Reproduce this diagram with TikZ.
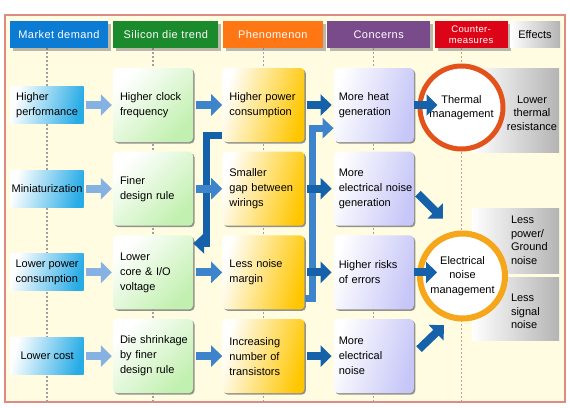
\documentclass[tikz,border=0pt]{standalone}
\usepackage{fontspec}
\setmainfont{Liberation Sans}
\newfontfamily\hdrfont[LetterSpace=4]{Liberation Sans}
\usetikzlibrary{arrows.meta,positioning,shadows,backgrounds}
\definecolor{MarketBlue}{HTML}{0B7BD4}
\definecolor{SiliconGreen}{HTML}{1B8A2D}
\definecolor{PhenOrange}{HTML}{FF7614}
\definecolor{ConcPurple}{HTML}{7A4B8B}
\definecolor{CounterRed}{HTML}{DE0417}
\definecolor{MarketLight}{HTML}{28ACE6}
\definecolor{TrendLight}{HTML}{C2F0B0}
\definecolor{PhenLight}{HTML}{FFC600}
\definecolor{ConcLight}{HTML}{C6C6F8}
\definecolor{EffGray}{HTML}{B4B4B4}
\definecolor{ArrowLight}{HTML}{85B2E2}
\definecolor{ArrowMid}{HTML}{3D84CC}
\definecolor{ArrowDark}{HTML}{1562AA}
\definecolor{RingRed}{HTML}{E4521C}
\definecolor{RingGold}{HTML}{F6A61A}
\definecolor{FrameRed}{HTML}{E08B82}
\definecolor{FrameFill}{HTML}{FFFCE2}
\definecolor{DotGray}{HTML}{A0A0A0}
\definecolor{DotRed}{HTML}{D8958E}

\begin{document}
\begin{tikzpicture}[x=1pt,y=-1pt,
  node distance=9.3pt and 29pt,
  txt/.style={font=\fontsize{11pt}{15pt}\selectfont},
  hdr/.style={minimum height=27pt,inner sep=0pt,text=white,align=center,
    font=\hdrfont\fontsize{11pt}{12pt}\selectfont,
    drop shadow={shadow xshift=3pt,shadow yshift=-3pt,fill=black!60,opacity=.45}},
  effhdr/.style={minimum width=50pt,minimum height=26pt,inner sep=0pt,
    left color=white,right color=EffGray,font=\fontsize{11pt}{12pt}\selectfont},
  cardshadow/.style={drop shadow={shadow xshift=1.5pt,shadow yshift=-1.5pt,fill=black!60,opacity=.7}},
  demand/.style={txt,minimum width=73pt,minimum height=37pt,inner sep=1pt,align=left,
    top color=white,bottom color=MarketLight,shading angle=75},
  trend/.style={txt,cardshadow,rounded corners=4pt,minimum width=80pt,minimum height=74pt,
    inner xsep=7pt,text width=66pt,align=left,top color=white,bottom color=TrendLight,shading angle=45},
  phen/.style={txt,cardshadow,rounded corners=4pt,minimum width=82pt,minimum height=74pt,
    inner xsep=7pt,text width=68pt,align=left,top color=white,bottom color=PhenLight,shading angle=75},
  conc/.style={txt,cardshadow,rounded corners=4pt,minimum width=80pt,minimum height=74pt,
    inner xsep=5pt,text width=70pt,align=left,top color=white,bottom color=ConcLight,shading angle=75},
  effect/.style={minimum width=87pt,inner sep=0pt,left color=white,right color=EffGray},
  efftext/.style={font=\fontsize{11pt}{13.5pt}\selectfont,inner sep=0pt},
  mgmt/.style={circle,fill=white,align=center,inner sep=0pt,font=\fontsize{11pt}{14.5pt}\selectfont},
  outerframe/.style={draw=FrameRed,line width=1.2pt,fill=FrameFill,minimum width=560pt,minimum height=387pt,inner sep=0pt},
  dotcol/.style={draw=DotGray,line width=1.3pt,dash pattern=on 1.5pt off 2.5pt},
  dotred/.style={draw=DotRed,line width=1.3pt,dash pattern=on 1.5pt off 2.5pt},
  fat/.style={line width=8pt,-{Triangle[length=11pt,width=21pt]}},
  arrowlight/.style={fat,draw=ArrowLight},
  arrowmid/.style={fat,draw=ArrowMid},
  arrowdark/.style={fat,draw=ArrowDark},
  elbowarrow/.style={line width=7pt,-{Triangle[length=11pt,width=20pt]}}]
\useasboundingbox (0,0) rectangle (570,407);
% column headers
\node[hdr,fill=MarketBlue,minimum width=98pt] (hmarket) at (59,34.5) {Market demand};
\node[hdr,fill=SiliconGreen,minimum width=105pt,right=5pt of hmarket] (hsilicon) {Silicon die trend};
\node[hdr,fill=PhenOrange,minimum width=100pt,right=4pt of hsilicon] (hphen) {Phenomenon};
\node[hdr,fill=ConcPurple,minimum width=103pt,right=4pt of hphen] (hconc) {Concerns};
\node[hdr,fill=CounterRed,minimum width=73pt,right=4pt of hconc,font=\hdrfont\fontsize{9.5pt}{11pt}\selectfont] (hcounter) {Counter-\\measures};
\node[effhdr,right=2pt of hcounter] (heffects) {Effects};
% silicon die trend
\node[trend] (clock) at (153,105) {Higher clock\\frequency};
\node[trend,below=of clock] (finer) {Finer\\design rule};
\node[trend,below=of finer] (voltage) {Lower\\core \& I/O\\voltage};
\node[trend,below=of voltage] (shrink) {\mbox{Die shrinkage}\\by finer\\design rule};
% market demand
\node[demand,left=of clock] (perf) {Higher\\performance};
\node[demand,left=of finer] (mini) {Miniaturization};
\node[demand,left=of voltage] (lowpwr) {Lower power\\consumption};
\node[demand,left=of shrink] (lowcost) {Lower cost};
% phenomenon
\node[phen,right=of clock] (power) {Higher power\\consumption};
\node[phen,right=of finer] (gap) {Smaller\\\mbox{gap between}\\wirings};
\node[phen,right=of voltage] (margin) {Less noise\\margin};
\node[phen,right=of shrink] (transistors) {Increasing\\number of\\transistors};
% concerns
\node[conc,right=of power] (heat) {More heat\\generation};
\node[conc,right=of gap] (noisegen) {More\\\mbox{electrical noise}\\generation};
\node[conc,right=of margin] (errors) {Higher risks\\of errors};
\node[conc,right=of transistors] (elnoise) {More\\electrical\\noise};
% effects
\node[effect,minimum height=84pt] (lowtherm) at (515.5,110) {};
\node[effect,minimum height=65pt] (lesspg) at (515.5,240.5) {};
\node[effect,minimum height=63pt,below=4pt of lesspg] (lesssig) {};
\node[efftext,align=center] (lowthermtxt) at ([shift={(16.5,3)}]lowtherm.center) {Lower\\thermal\\resistance};
\node[efftext,align=left,anchor=west] (lesspgtxt) at ([xshift=39pt]lesspg.west) {Less\\power/\\Ground\\noise};
\node[efftext,align=left,anchor=west] (lesssigtxt) at ([shift={(39,2.5)}]lesssig.west) {Less\\signal\\noise};
% countermeasures
\node[mgmt,draw=RingRed,line width=5pt,minimum size=83pt] (thermal) at (461.5,107.5) {Thermal\\management};
\node[mgmt,draw=RingGold,line width=6pt,minimum size=85pt] (elecmgmt) at (462.5,276) {Electrical\\noise\\management};
% feedback paths
\draw[elbowarrow,draw=ArrowDark] ([yshift=7pt]power.south west) -- ++(-16,0) |- ([yshift=29pt]voltage.east);
\draw[elbowarrow,draw=ArrowMid] ([yshift=11pt]margin.south east) -- ++(8,0) |- ([yshift=14pt]heat.south west);
% row arrows
\draw[arrowlight,shorten <=2pt,shorten >=1pt](perf)--(clock);\draw[arrowlight,shorten <=2pt,shorten >=1pt](mini)--(finer);\draw[arrowlight,shorten <=2pt,shorten >=1pt](lowpwr)--(voltage);\draw[arrowlight,shorten <=2pt,shorten >=1pt](lowcost)--(shrink);
\draw[arrowmid,shorten <=3pt](clock)--(power);\draw[arrowmid,shorten <=3pt](finer)--(gap);\draw[arrowmid,shorten <=3pt](voltage)--(margin);\draw[arrowmid,shorten <=3pt](shrink)--(transistors);
\draw[arrowdark,shorten <=2pt,shorten >=2pt](power)--(heat);\draw[arrowdark,shorten <=2pt,shorten >=2pt](gap)--(noisegen);\draw[arrowdark,shorten <=2pt,shorten >=2pt](margin)--(errors);\draw[arrowdark,shorten <=2pt,shorten >=2pt](transistors)--(elnoise);
\draw[arrowdark](heat.east)--([xshift=20pt]heat.east -| thermal.west);
\draw[arrowdark](errors.east)--([xshift=20pt]errors.east -| elecmgmt.west);
\draw[arrowdark]([shift={(4,5)}]noisegen.east)--++(25,25);
\draw[arrowdark]([shift={(5,-7)}]elnoise.east)--++(25,-24);
% frame and column guides
\begin{scope}[on background layer]
\fill[white] (0,0) rectangle (570,407);
\node[outerframe] (frame) at (285,208.5) {};
\draw[dotcol] (perf |- hmarket.south) -- (perf |- frame.south);
\draw[dotcol] (clock |- hsilicon.south) -- (clock |- frame.south);
\draw[dotcol] (power |- hphen.south) -- (power |- frame.south);
\draw[dotcol] (heat |- hconc.south) -- (heat |- frame.south);
\draw[dotred] (thermal |- hcounter.south) -- (thermal |- frame.south);
\end{scope}
\end{tikzpicture}
\end{document}
